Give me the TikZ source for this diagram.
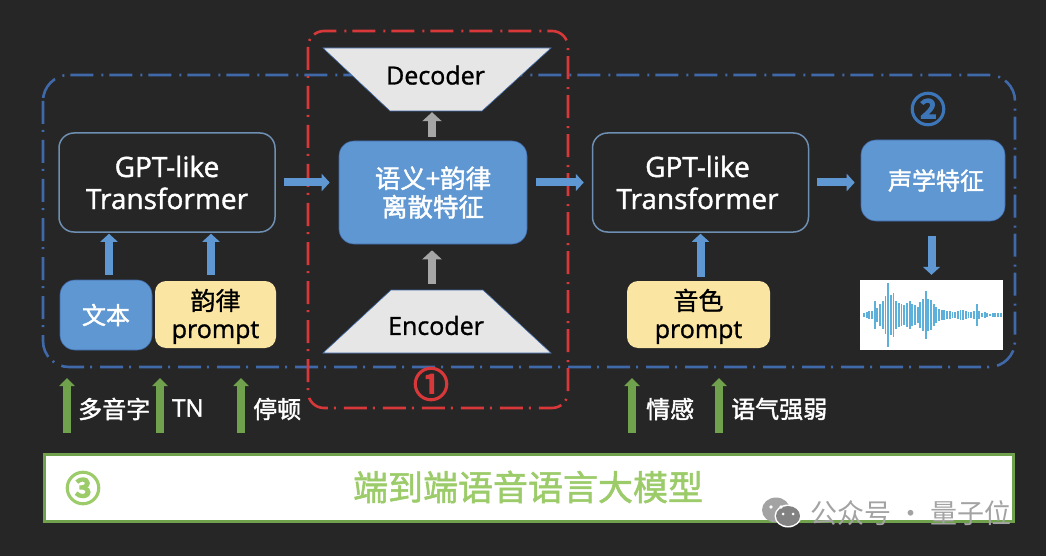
\documentclass[tikz,border=0pt]{standalone}
\usepackage{fontspec}
\setmainfont{Open Sans}
\newfontfamily\cjk{Noto Sans CJK SC}
\newcommand{\strk}[2]{\special{pdf:code 2 Tr #1 w}#2\special{pdf:code 0 Tr 1 w}}
\usetikzlibrary{arrows.meta}
\definecolor{bgc}{HTML}{262626}
\definecolor{blueb}{HTML}{5F97D2}
\definecolor{bord}{HTML}{6E8FB2}
\definecolor{dashb}{HTML}{3F69A9}
\definecolor{numb}{HTML}{3D76B8}
\definecolor{dashr}{HTML}{D8383A}
\definecolor{yel}{HTML}{FBE5A3}
\definecolor{graya}{HTML}{A6A6A6}
\definecolor{trap}{HTML}{E7E6E6}
\definecolor{greena}{HTML}{70A14C}
\definecolor{greent}{HTML}{9CCB69}
\definecolor{wave}{HTML}{5CB0D9}
\definecolor{wm}{HTML}{A3A3A3}
\tikzset{
 x=1pt,y=-1pt,
 fs/.style={font=\fontsize{#1}{#1}\selectfont},
 boxb/.style={rectangle,rounded corners=#1,inner sep=0pt,align=center,text=white},
 gptbox/.style={boxb=15pt,draw=bord,line width=1.5pt,fill=bgc,minimum width=216pt,minimum height=99pt,fs=28,text=white},
 bluebox/.style={boxb=15pt,fill=blueb,draw=dashb,line width=.6pt},
 yelbox/.style={boxb=11pt,fill=yel,text=black,minimum height=67pt},
 trapfill/.style={draw=dashb,line width=.6pt,fill=trap},
 traptext/.style={rectangle,inner sep=0pt,minimum width=92pt,minimum height=63pt,text=black,fs=25},
 barrow/.style={line width=8pt,draw=blueb,-{Triangle[width=17pt,length=8pt]}},
 garrow/.style={line width=8pt,draw=graya,-{Triangle[width=19pt,length=9pt]}},
 grarrow/.style={line width=7.5pt,draw=greena,-{Triangle[width=15pt,length=8pt]}},
 dashbox/.style={line width=2.6pt,rounded corners=#1,dash pattern=on 23pt off 6pt on 2pt off 8pt},
 lab/.style={inner sep=0pt,text=white,fs=24},
}
\begin{document}
\begin{tikzpicture}
\useasboundingbox (0,0) rectangle (1046,556);
\fill[bgc] (0,0) rectangle (1046,556);
\draw[dashbox=26pt,draw=dashb] (43,75) rectangle (1015,367);
% boxes
\node[gptbox] (g1) at (167,182.5) {\strk{0.4}{GPT-like}\\[4pt]\strk{0.4}{Transformer}};
\node[gptbox] (g2) at (700.5,182.5) {\strk{0.4}{GPT-like}\hspace*{6pt}\\[4pt]\strk{0.4}{Transformer}\hspace*{6pt}};
\node[bluebox,minimum width=188pt,minimum height=103pt,fs=25.5] (sem) at (433,192.5) {\strk{0.4}{\cjk 语义+韵律}\\[3pt]\strk{0.4}{\cjk 离散特征}};
\node[bluebox,minimum width=144pt,minimum height=81pt,fs=24] (ac) at (933,180.5) {\hspace*{6pt}\strk{0.4}{\cjk 声学特征}};
\path[trapfill] (323,48) -- (551,48) -- (482,111) -- (390,111) -- cycle;
\path[trapfill] (391,290) -- (483,290) -- (551,353) -- (323,353) -- cycle;
\node[traptext] (dec) at (435.5,79.5) {\raisebox{9pt}{\strk{0.3}{Decoder}}};
\node[traptext] (enc) at (436,321.5) {\rule{0pt}{27pt}\strk{0.3}{Encoder}};
\node[bluebox,minimum width=92pt,minimum height=70pt,fs=24] (txt) at (106,315) {\strk{0.4}{\cjk 文本}};
\node[yelbox,minimum width=121pt,fs=25] (pr1) at (215.5,314.5) {\rule{0pt}{25pt}\strk{0.3}{\cjk 韵律}\\[3pt]\strk{0.3}{prompt}};
\node[yelbox,minimum width=143pt,fs=25] (pr2) at (698.5,314.5) {\rule{0pt}{25pt}\strk{0.3}{\cjk 音色}\\[3pt]\strk{0.3}{prompt}};
\node[rectangle,fill=white,inner sep=0pt,minimum width=143pt,minimum height=70pt] (wv) at (931.5,315) {};
\foreach \h [count=\i from 0] in {2,3,4,4,14,7,11,14,19,32,20,22,14,12,11,10,12,14,11,10,8,13,16,24,16,15,11,8,6,5,5,4,4,3,3,4,5,5,4,3,3,4,11,4,2,3,2,1,2,2,2,2}
  \fill[wave] ({864+2.68*\i-.95},{315-\h}) rectangle ({864+2.68*\i+.95},{315+\h});
% arrows
\draw[dashbox=16pt,draw=dashr] (308,31) rectangle (568,408);
\draw[barrow,shorten <=8pt,shorten >=9pt] (g1.east) -- (g1.east -| sem.west);
\draw[barrow,shorten <=9pt,shorten >=8pt] (sem.east |- g2.west) -- (g2.west);
\draw[barrow,shorten <=8pt,shorten >=6pt] (g2.east) -- (g2.east -| ac.west);
\draw[barrow,shorten <=15pt,shorten >=5pt] (ac.south -| wv.north) -- (wv.north);
\draw[barrow,shorten <=5pt,shorten >=1pt] (txt.north -| 109,280) -- (g1.south -| 109,280);
\draw[barrow,shorten <=6pt,shorten >=1pt] (pr1.north -| 211,280) -- (g1.south -| 211,280);
\draw[barrow,shorten <=4pt,shorten >=1pt] (pr2.north -| g2.south) -- (g2.south);
\draw[garrow,shorten <=4pt,shorten >=1pt] (sem.north -| 432,0) -- (dec.south -| 432,0);
\draw[garrow,shorten <=6pt,shorten >=6pt] (enc.north -| 432,0) -- (sem.south -| 432,0);
% labels
\coordinate (a1) at (67,433); \coordinate (b1) at (67,378);
\coordinate (a2) at (160,433); \coordinate (b2) at (160,378);
\coordinate (a3) at (241,433); \coordinate (b3) at (241,378);
\coordinate (a4) at (632,433); \coordinate (b4) at (632,378);
\coordinate (a5) at (719,433); \coordinate (b5) at (719,378);
\foreach \i in {1,...,5} \draw[grarrow] (a\i) -- (b\i);
\node[lab,anchor=west] (l1) at (78,409) {\strk{0.4}{\cjk 多音字}};
\node[lab,anchor=west] (l2) at (172,408) {\strk{0.4}{TN}};
\node[lab,anchor=west] (l3) at (253,409) {\strk{0.4}{\cjk 停顿}};
\node[lab,anchor=west] (l4) at (646,409) {\strk{0.4}{\cjk 情感}};
\node[lab,anchor=west] (l5) at (731,409) {\strk{0.4}{\cjk 语气强弱}};
\node[inner sep=0pt,text=dashr,font=\fontsize{35}{35}\selectfont\cjk] (n1) at (431,384) {\strk{2}{①}};
\node[inner sep=0pt,text=numb,font=\fontsize{35}{35}\selectfont\cjk] (n2) at (928,109) {\strk{2}{②}};
% banner
\node[rectangle,draw=greena,line width=3pt,fill=white,minimum width=969pt,minimum height=67pt,inner sep=0pt] (ban) at (529,488) {};
\node[inner sep=0pt,text=greent,font=\fontsize{35}{35}\selectfont\cjk] (n3) at (83,488) {\strk{2}{③}};
\node[inner sep=0pt,text=greent,font=\fontsize{35}{35}\selectfont\cjk] (title) at (528,487) {\strk{0.5}{端到端语音语言大模型}};
% watermark
\fill[wm] (776,510) ellipse (14pt and 12.5pt);
\fill[white] (788,516) ellipse (13.5pt and 11.5pt);
\fill[wm!80!black] (788,516) ellipse (12pt and 10pt);
\fill[white] (771,507) circle (1.8pt) (781,507) circle (1.8pt) (783,514) circle (1.5pt) (793,514) circle (1.5pt);
\node[inner sep=0pt,anchor=west,text=wm,font=\fontsize{27}{27}\selectfont\cjk] (wmt) at (810,513) {公众号 · 量子位};
\end{tikzpicture}
\end{document}
